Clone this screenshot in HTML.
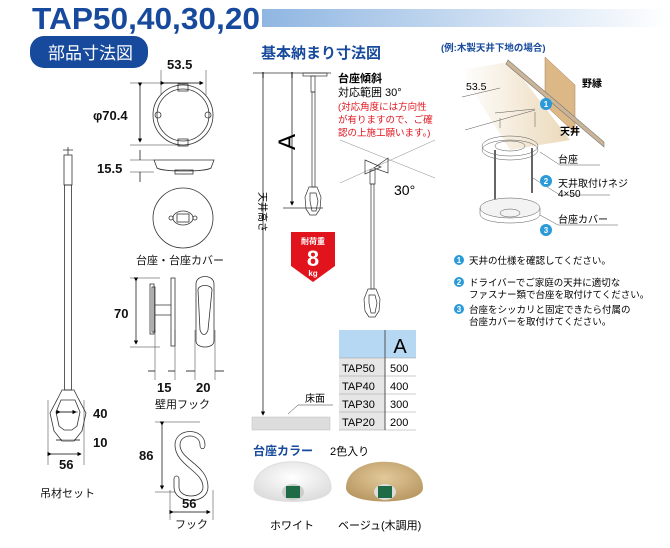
<!DOCTYPE html>
<html><head><meta charset="utf-8"><style>
body{margin:0;background:#fff}
svg{display:block;font-family:"Liberation Sans","Noto Sans CJK JP",sans-serif}
</style></head><body>
<svg width="670" height="548" viewBox="0 0 670 548" xmlns="http://www.w3.org/2000/svg">
<defs>
<linearGradient id="bar" x1="0" x2="1"><stop offset="0" stop-color="#8fb6e2"/><stop offset="1" stop-color="#fff"/></linearGradient>
<linearGradient id="wood" x1="0" x2="1"><stop offset="0" stop-color="#fff"/><stop offset="1" stop-color="#e6cfa8"/></linearGradient>
<radialGradient id="wh" cx="0.5" cy="0.4" r="0.6"><stop offset="0" stop-color="#fff"/><stop offset="1" stop-color="#ddd"/></radialGradient>
<radialGradient id="bg" cx="0.5" cy="0.4" r="0.6"><stop offset="0" stop-color="#e3c99a"/><stop offset="1" stop-color="#b99a64"/></radialGradient>
<marker id="ar" markerWidth="6" markerHeight="6" refX="5" refY="3" orient="auto"><path d="M0,0L6,3L0,6z" fill="#000"/></marker>
</defs>
<rect x="262" y="9" width="408" height="18" fill="url(#bar)"/>
<text x="32" y="29" font-size="31" font-weight="bold" fill="#174a9c" textLength="228" lengthAdjust="spacingAndGlyphs">TAP50,40,30,20</text>
<rect x="30" y="36" width="118" height="32" rx="14" fill="#174a9c"/>
<text x="48" y="59" font-size="17" fill="#fff">部品寸法図</text>
<text x="261" y="58" font-size="15" font-weight="bold" fill="#174a9c">基本納まり寸法図</text>

<g stroke="#333" fill="none" stroke-width="0.8">
<path d="M63,150h10M68,147v8"/>
<rect x="64" y="155" width="8" height="30"/>
<rect x="64.5" y="185" width="7" height="205"/>
<path d="M62,390h12l4,8 8,15 -4,18 -8,10h-12l-8,-10 -4,-18 8,-15z"/>
<path d="M61,400h14l5,12 -3,14 -5,4h-8l-5,-4 -3,-14z"/>
<path d="M48,400v65M84,400v65M58,412h20M62,440h12" stroke-width="0.5"/>
<circle cx="183" cy="115" r="30"/><circle cx="183" cy="115" r="26"/>
<rect x="178" y="84" width="10" height="7"/><rect x="178" y="139" width="10" height="7"/>
<circle cx="158" cy="115" r="3"/><circle cx="208" cy="115" r="3"/>
<path d="M161,70v25M206,70v25M130,83h50M130,145h50" stroke-width="0.5"/>
<path d="M154,160h60l-3,8c-6,4 -48,4 -54,0z"/><rect x="175" y="170" width="18" height="4"/>
<path d="M130,160h24M130,172h24" stroke-width="0.5"/>
<circle cx="183" cy="218" r="30"/><ellipse cx="183" cy="218" rx="10" ry="7"/><rect x="177" y="214" width="12" height="8"/>
<circle cx="171" cy="218" r="2"/><circle cx="195" cy="218" r="2"/>
<rect x="150" y="284" width="4" height="50"/><rect x="152" y="287" width="3" height="45"/><rect x="171" y="278" width="4" height="68"/>
<path d="M155,305h16M155,315h16"/>
<path d="M196,284c0,-10 18,-10 18,0v57c0,8 -18,8 -18,0z"/>
<path d="M198,290c0,-6 14,-6 14,0l-4,40c-2,6 -6,6 -8,0z"/>
<path d="M130,278h30M130,347h30M155,330v50M175,330v50M195,330v50M215,330v50" stroke-width="0.5"/>
<path d="M200,445c0,-12 -20,-12 -20,0c0,15 28,20 28,42c0,18 -34,18 -34,0v-8c0,-4 5,-4 5,0v8c0,12 24,12 24,0c0,-16 -28,-22 -28,-42c0,-18 30,-18 30,0c0,5 -5,5 -5,0z"/>
<path d="M155,422h45M155,492h20M170,490v30M213,490v30" stroke-width="0.5"/>
</g>
<g stroke="#000" stroke-width="0.7" marker-end="url(#ar)" marker-start="url(#ar)" fill="none">
<line x1="140" y1="86" x2="140" y2="142"/>
<line x1="164" y1="83" x2="203" y2="83"/>
<line x1="136" y1="281" x2="136" y2="344"/>
<line x1="162" y1="425" x2="162" y2="489"/>
<line x1="173" y1="512" x2="210" y2="512"/>
<line x1="51" y1="454" x2="81" y2="454"/>
<line x1="60" y1="412" x2="76" y2="412"/>
</g>
<g stroke="#000" stroke-width="0.7" fill="none">
<path d="M140,150v10M140,172v10M148,371h7M175,371h-7M186,371h9M224,371h-9M56,440h6M80,440h-6"/>
</g>
<g font-size="13" fill="#111" font-weight="bold">
<text x="167" y="69">53.5</text>
<text x="93" y="120">φ70.4</text>
<text x="97" y="173">15.5</text>
<text x="114" y="318">70</text>
<text x="157" y="392">15</text><text x="196" y="392">20</text>
<text x="139" y="460">86</text>
<text x="182" y="508">56</text>
<text x="93" y="418">40</text><text x="93" y="447">10</text>
<text x="59" y="469">56</text>
</g>
<g font-size="11" fill="#111">
<text x="136" y="264">台座・台座カバー</text>
<text x="155" y="408">壁用フック</text>
<text x="175" y="528">フック</text>
<text x="40" y="497">吊材セット</text>
</g>

<g stroke="#333" fill="none" stroke-width="0.7">
<path d="M253,73h78M283,208h40M252,418h78"/>
<rect x="303" y="73" width="24" height="3"/>
<rect x="311" y="76" width="4" height="16"/><rect x="312" y="92" width="3" height="95"/>
<path d="M309,187h8l4,10 -1,12 -4,6h-6l-4,-6 -1,-12z"/><path d="M310,193h6l2,8 -2,10h-4l-2,-10z"/>
<path d="M340,140L435,178M340,183L435,140" stroke="#888" stroke-width="0.5"/>
<path d="M365,160l16,7 -16,7zM388,158l-14,10 14,5z"/>
<rect x="370" y="170" width="5" height="14"/><rect x="371" y="184" width="3" height="105"/>
<path d="M368,289h8l4,10 -1,12 -4,6h-6l-4,-6 -1,-12z"/><path d="M369,295h6l2,8 -2,10h-4l-2,-10z"/>
<path d="M298,405h35M298,405l-10,9" stroke-width="0.5"/>
</g>
<g stroke="#000" stroke-width="0.7" fill="none" marker-end="url(#ar)">
<line x1="263" y1="75" x2="263" y2="415"/>
<line x1="292" y1="75" x2="292" y2="205"/>
</g>
<path d="M263,72v6M292,72v6" stroke="#000"/>
<text transform="translate(259,192) rotate(90)" font-size="10">天井高さ</text>
<text transform="translate(295,150) rotate(-90)" font-size="24">A</text>
<rect x="252" y="417" width="78" height="13" fill="#ddd" stroke="#bbb" stroke-width="0.5"/>
<text x="305" y="402" font-size="10">床面</text>
<path d="M291,232h44v34l-22,16 -22,-16z" fill="#e1141e"/>
<text x="313" y="244" font-size="8" fill="#fff" text-anchor="middle" font-weight="bold">耐荷重</text>
<text x="313" y="266" font-size="22" fill="#fff" text-anchor="middle" font-weight="bold">8</text>
<text x="313" y="276" font-size="8" fill="#fff" text-anchor="middle" font-weight="bold">kg</text>
<text x="338" y="82" font-size="11" font-weight="bold">台座傾斜</text>
<text x="338" y="96" font-size="11">対応範囲 30°</text>
<g font-size="9.5" fill="#e1141e"><text x="338" y="110">(対応角度には方向性</text><text x="338" y="123">が有りますので、ご確</text><text x="338" y="136">認の上施工願います。)</text></g>
<text x="394" y="195" font-size="14">30°</text>

<rect x="339" y="330" width="77" height="28" fill="#b6d8f2"/>
<rect x="339" y="358" width="46" height="72" fill="#e6e6e6"/>
<g stroke="#999" stroke-width="0.6"><path d="M339,358h77M339,376h77M339,394h77M339,412h77M339,430h77"/></g>
<path d="M385,330v100" stroke="#555"/>
<text x="400" y="353" font-size="20" text-anchor="middle">A</text>
<g font-size="11"><text x="342" y="372">TAP50</text><text x="390" y="372">500</text>
<text x="342" y="390">TAP40</text><text x="390" y="390">400</text>
<text x="342" y="408">TAP30</text><text x="390" y="408">300</text>
<text x="342" y="426">TAP20</text><text x="390" y="426">200</text></g>

<text x="253" y="455" font-size="12" font-weight="bold" fill="#174a9c">台座カラー</text>
<text x="330" y="455" font-size="11">2色入り</text>
<path d="M254,488c0,-35 77,-35 77,0c0,18 -77,18 -77,0z" fill="url(#wh)" stroke="#ddd"/>
<path d="M346,488c0,-35 77,-35 77,0c0,18 -77,18 -77,0z" fill="url(#bg)"/>
<ellipse cx="293" cy="492" rx="11" ry="8" fill="#ccc"/><rect x="286" y="486" width="14" height="12" fill="#1e6b45"/>
<ellipse cx="385" cy="492" rx="11" ry="8" fill="#ddd"/><rect x="378" y="486" width="14" height="12" fill="#1e6b45"/>
<text x="270" y="529" font-size="11">ホワイト</text>
<text x="338" y="529" font-size="11">ベージュ(木調用)</text>

<text x="441" y="51" font-size="9.5" fill="#174a9c" font-weight="bold">(例:木製天井下地の場合)</text>
<path d="M460,70L510,62 570,140 510,150z" fill="url(#wood)" opacity="0.8"/>
<path d="M545,57l30,28v48l-30,-28z" fill="#dcb887" stroke="#a08060" stroke-width="0.5"/>
<path d="M508,60L604,142v5L506,64z" fill="#cbb596" stroke="#777" stroke-width="0.6"/>
<g stroke="#555" stroke-width="0.5" fill="none">
<path d="M462,97L500,88M465,130L535,110M495,113L535,109M500,118v10M535,112v15"/>
<ellipse cx="510" cy="146" rx="28" ry="10"/><ellipse cx="510" cy="150" rx="28" ry="10"/>
<ellipse cx="510" cy="146" rx="15" ry="5"/>
<path d="M495,150v50M532,148v45" stroke-width="2" stroke="#666"/>
<ellipse cx="510" cy="208" rx="30" ry="10" fill="#f3f3f3"/><path d="M480,208v6c0,12 60,12 60,0v-6"/>
<ellipse cx="510" cy="213" rx="10" ry="4"/>
<path d="M540,152L560,165h40M533,178L560,195h50M540,215L558,225h60"/>
</g>
<text x="466" y="90" font-size="10.5">53.5</text>
<text x="582" y="87" font-size="10" font-weight="bold">野縁</text>
<text x="560" y="135" font-size="10" font-weight="bold">天井</text>
<text x="558" y="163" font-size="10">台座</text>
<text x="558" y="187" font-size="10">天井取付けネジ</text>
<text x="558" y="197" font-size="10">4×50</text>
<text x="558" y="223" font-size="10">台座カバー</text>
<g fill="#2a9ad8"><circle cx="546" cy="104" r="6"/><circle cx="546" cy="181" r="6"/><circle cx="546" cy="230" r="6"/>
<circle cx="459" cy="260" r="5"/><circle cx="459" cy="282" r="5"/><circle cx="459" cy="309" r="5"/></g>
<g fill="#fff" font-size="8" font-weight="bold" text-anchor="middle"><text x="546" y="107">1</text><text x="546" y="184">2</text><text x="546" y="233">3</text>
<text x="459" y="263">1</text><text x="459" y="285">2</text><text x="459" y="312">3</text></g>
<g font-size="9.5"><text x="469" y="264">天井の仕様を確認してください。</text>
<text x="469" y="286">ドライバーでご家庭の天井に適切な</text><text x="469" y="298">ファスナー類で台座を取付けてください。</text>
<text x="469" y="313">台座をシッカリと固定できたら付属の</text><text x="469" y="325">台座カバーを取付けてください。</text></g>
</svg>
</body></html>
